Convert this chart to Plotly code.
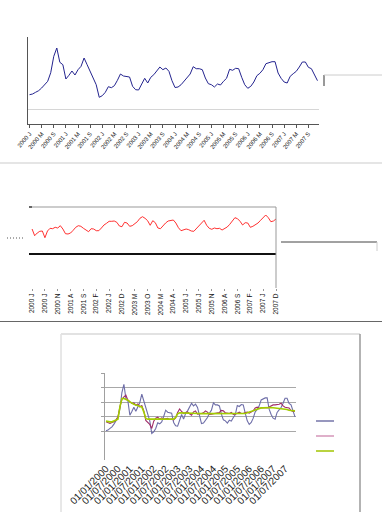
import plotly.graph_objects as go

W, H = 382, 512

# ---------------- data ----------------
months = list(range(96))  # Jan 2000 .. Dec 2007, monthly index

# panel 1 (also first series of panel 3)
series_blue = [
    29.3, 30, 31.7, 33.3, 36, 39.3, 42.7, 51.3, 67.7, 76,
    61.7, 59.3, 45, 48.7, 53, 49, 54.3, 57.7, 66, 59.3,
    52.7, 47, 39.3, 26.7, 28.3, 31.7, 37.3, 36.3, 38.3, 43.7,
    50, 48, 47.7, 47, 37.7, 34.3, 34, 39.3, 45.7, 41,
    46.7, 49.3, 53.3, 57, 54.3, 56, 52.7, 43.3, 36.5, 37,
    39.3, 42.7, 47, 50, 57.3, 55.3, 55.3, 54.3, 46, 40.3,
    39.3, 37, 40, 39, 42.7, 45.7, 54.7, 53.7, 55.7, 55.3,
    46.7, 39.3, 35.7, 37.7, 42, 48.3, 50.7, 54.3, 60.3, 61.7,
    62.3, 62.3, 51, 45.7, 42, 41, 47.7, 50.3, 52.7, 57,
    62, 62, 56.7, 55.3, 49.3, 43.3,
]

# panel 2
series_red = [
    24.7, 18, 20.7, 22.4, 22.7, 16, 22.7, 25.4, 25, 26.4,
    25.7, 28, 24.7, 20, 19.7, 20.7, 23.4, 26.4, 28, 27.4,
    25.4, 24, 22, 25, 24.7, 23, 23, 25.7, 28.7, 30.4,
    32.4, 32.4, 32.7, 31.4, 27.7, 27, 31.4, 30.7, 27.4, 28,
    30, 32, 35.4, 37, 35.4, 33, 28.4, 33, 31, 25.7,
    25, 28.4, 30.7, 32.7, 33, 33.7, 30.7, 26, 23, 23.7,
    24.7, 24, 22.7, 22.4, 25.4, 27.7, 31.4, 33.4, 28.4, 25.4,
    24.4, 25.7, 25, 25.4, 23.7, 25, 26.7, 29.4, 33, 36,
    35, 32.4, 28.7, 31, 30.7, 26.4, 27.4, 28.7, 30.7, 33.4,
    36.4, 38.7, 36, 32, 32.7, 34.7,
]

# panel 3
series_magenta = [
    38.3, 37.7, 36.7, 37.7, 38.3, 40, 43.3, 53.3, 60.7, 63.3,
    65, 60, 58, 56.7, 57.3, 55, 56.3, 53.3, 54.7, 49.3,
    39.7, 37.7, 35.7, 31.7, 39, 42, 43, 41, 42.3, 41,
    41, 41.7, 40.7, 41, 40.3, 42.3, 47.7, 51.3, 48.7, 46.7,
    47.7, 48.3, 46.3, 45, 48.3, 49.3, 46, 46.7, 46.7, 47.3,
    49.3, 48, 45.7, 46, 46.3, 47.3, 47, 47.7, 49.7, 49.3,
    47.3, 46.7, 46.7, 47.7, 45.7, 46, 47, 48, 46.7, 46.7,
    47.7, 48, 47, 48.3, 49.3, 52.3, 53, 52, 52.3, 52.3,
    52.7, 52.3, 53.3, 54.7, 55.3, 55.3, 55.3, 56, 57, 54.3,
    53, 52.3, 52.3, 49.7, 48.7, 49,
]
series_green = [
    39, 38.3, 38.3, 38.3, 39, 40, 41, 53.3, 61.7, 61.7,
    61, 60, 58.3, 57, 56, 55.3, 54.7, 53.7, 53.3, 48.3,
    41.7, 41, 40.7, 41, 41, 41, 41.2, 41, 41, 40.8,
    41, 41, 40.8, 41, 41, 42.7, 46.3, 47.3, 47.3, 47.3,
    47.2, 47.2, 47, 47, 47, 47, 46.6, 46.6, 46.5, 46.5,
    46.5, 46.4, 46.4, 46.4, 46.3, 46.3, 46.3, 46.3, 46.3, 46.2,
    46.2, 46, 46, 46, 46, 46, 46, 46.3, 46.3, 46.3,
    46.7, 47.3, 48, 48.7, 49.3, 50.3, 51, 51.7, 52.3, 52.3,
    52.5, 52.7, 52.7, 52.7, 52.5, 52.3, 52, 52, 51.8, 51.3,
    51, 50.7, 50, 49.7, 49.3, 49.3,
]

# tick labels
ticks1_vals = list(range(0, 96, 4))
ticks1_text = [f"{y} {m}" for y in range(2000, 2008) for m in ("J", "M", "S")]

ticks2_vals = list(range(0, 96, 5))
ticks2_text = ["2000 J", "2000 J", "2000 N", "2001 A", "2001 S", "2002 F", "2002 J",
               "2002 D", "2003 M", "2003 O", "2004 M", "2004 A", "2005 J", "2005 J",
               "2005 N", "2006 A", "2006 S", "2007 F", "2007 J", "2007 D"]

ticks3_vals = list(range(0, 96, 6))
ticks3_text = [f"01/{m}/{y}" for y in range(2000, 2008) for m in ("01", "07")]

# ---------------- helpers ----------------
def px(xp):
    return xp / W

def py(yp):
    return 1 - yp / H

FONT = "Liberation Sans, Arial, sans-serif"

fig = go.Figure()

fig.add_trace(go.Scatter(x=months, y=series_blue, mode="lines",
                         line=dict(color="#24248f", width=1), xaxis="x", yaxis="y",
                         showlegend=False, hoverinfo="skip"))
fig.add_trace(go.Scatter(x=months, y=series_red, mode="lines",
                         line=dict(color="#ff1a1a", width=0.9), xaxis="x2", yaxis="y2",
                         showlegend=False, hoverinfo="skip"))
fig.add_trace(go.Scatter(x=months, y=series_blue, mode="lines",
                         line=dict(color="#6e6ea8", width=1.1), xaxis="x3", yaxis="y3",
                         showlegend=False, hoverinfo="skip"))
fig.add_trace(go.Scatter(x=months, y=series_magenta, mode="lines",
                         line=dict(color="#a02c68", width=1.1), xaxis="x3", yaxis="y3",
                         showlegend=False, hoverinfo="skip"))
fig.add_trace(go.Scatter(x=months, y=series_green, mode="lines",
                         line=dict(color="#a4cc00", width=1.6), xaxis="x3", yaxis="y3",
                         showlegend=False, hoverinfo="skip"))

shapes = []

def pline(x0, y0, x1, y1, color, width=1, dash=None):
    d = dict(type="line", xref="paper", yref="paper",
             x0=px(x0), y0=py(y0), x1=px(x1), y1=py(y1),
             line=dict(color=color, width=width))
    if dash:
        d["line"]["dash"] = dash
    shapes.append(d)

# panel 1 extras
shapes.append(dict(type="line", xref="x domain", yref="y", x0=0, x1=1, y0=14.5, y1=14.5,
                   line=dict(color="#d6d6d6", width=1)))
pline(324, 75, 324, 86, "#555555", 1.2)
pline(324, 75, 382, 75, "#cccccc", 1)
pline(0, 163, 382, 163, "#dddddd", 1.5)

# panel 2 extras
pline(29, 207, 276, 207, "#999999", 1)
pline(276, 207, 276, 288, "#999999", 1)
pline(29, 207, 32, 207, "#444444", 1.5)
pline(7, 238, 23, 238, "#555555", 1, "1px,2px")
pline(281, 242, 377, 242, "#444444", 1)
pline(377, 242, 377, 251, "#cccccc", 1)
pline(0, 321.5, 382, 321.5, "#666666", 1.2)

# panel 3 frame and legend keys
pline(61, 334, 61, 512, "#d0d0d0", 1)
pline(61, 334, 360, 334, "#e2e2e2", 2)
pline(360, 334, 360, 512, "#9a9a9a", 1.5)
pline(316, 421, 334, 421, "#7474a8", 1.5)
pline(316, 436, 334, 436, "#d496b8", 1.5)
pline(316, 451, 334, 451, "#a2c400", 1.5)

fig.update_layout(
    template="none",
    width=W, height=H, autosize=False,
    margin=dict(l=0, r=0, t=0, b=0, pad=0),
    paper_bgcolor="white", plot_bgcolor="rgba(0,0,0,0)",
    font=dict(family=FONT, color="#111111"),
    showlegend=False,
    shapes=shapes,
    xaxis=dict(domain=[px(28), px(319)], anchor="y", range=[-0.5, 95.5], automargin=False,
               showline=True, linecolor="#555555", linewidth=1,
               ticks="outside", ticklen=3, tickcolor="#555555",
               tickvals=ticks1_vals, ticktext=ticks1_text, tickangle=-50,
               tickfont=dict(size=6, family=FONT, color="#111111"),
               showgrid=False, zeroline=False),
    yaxis=dict(domain=[py(124), py(37)], anchor="x", range=[0, 87], automargin=False,
               showline=True, linecolor="#555555", linewidth=1,
               showticklabels=False, ticks="", showgrid=False, zeroline=False),
    xaxis2=dict(domain=[px(29), px(276)], anchor="y2", range=[-1.2, 95], automargin=False,
                showline=False, ticks="outside", ticklen=2, tickcolor="#999999",
                tickvals=ticks2_vals, ticktext=ticks2_text, tickangle=-90,
                tickfont=dict(size=6.5, family=FONT, color="#111111"),
                showgrid=False, zeroline=False),
    yaxis2=dict(domain=[py(288), py(207)], anchor="x2", range=[-34.3, 46.7], automargin=False,
                showline=False, showticklabels=False, ticks="", showgrid=False,
                zeroline=True, zerolinecolor="#111111", zerolinewidth=1.5),
    xaxis3=dict(domain=[px(105), px(296)], anchor="y3", range=[-0.5, 95.5], automargin=False,
                showline=False, ticks="",
                tickvals=ticks3_vals, ticktext=ticks3_text, tickangle=-45,
                tickfont=dict(size=10, family=FONT, color="#1a1a1a"),
                showgrid=False, zeroline=False),
    yaxis3=dict(domain=[py(460), py(373)], anchor="x3", range=[0, 87.3], automargin=False,
                showline=True, linecolor="#a0a0a0", linewidth=1,
                tickvals=[29, 43.5, 58, 72.5, 87], showticklabels=False,
                ticks="outside", ticklen=3, tickcolor="#a0a0a0",
                showgrid=True, gridcolor="#a8a8a8", gridwidth=1, zeroline=False),
)

fig.write_html("out.html", config={"displayModeBar": False},
               post_script="document.body.style.margin='0';document.body.style.overflow='hidden';")
